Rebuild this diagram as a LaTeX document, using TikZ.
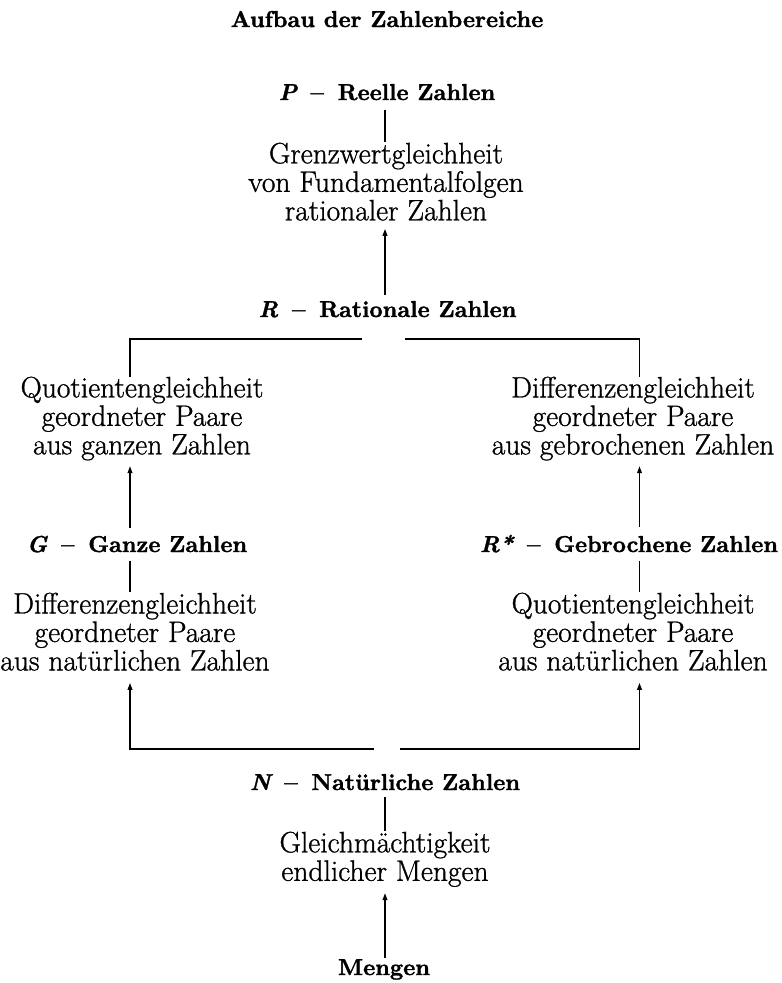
\documentclass[tikz,border=0pt]{standalone}
\usepackage{fontspec}
\usetikzlibrary{arrows.meta}

% heavier faces, in the manner of an old textbook
\newfontfamily\bodyfont{Latin Modern Roman}[FakeBold=1.0]
\newfontface\headfont{lmroman10-bold}[Extension=.otf, Ligatures=TeX, FakeBold=1.5]
\newfontface\headit{lmroman10-bolditalic}[Extension=.otf, Ligatures=TeX, FakeBold=1.5]
\newcommand{\gap}{\hspace{0.6em}}
\newcommand{\sym}[1]{{\headit #1}}

\tikzset{
  head/.style={font=\headfont\fontsize{23}{26}\selectfont, inner sep=0pt, anchor=base},
  body/.style={font=\bodyfont\fontsize{29.5}{28.5}\selectfont, inner sep=0pt, anchor=north, align=center},
  link/.style={line width=1.6pt},
  uparrow/.style={line width=1.6pt, -{Triangle[length=7pt,width=4.6pt]}}
}

\begin{document}
\begin{tikzpicture}[x=1pt,y=-1pt]
  \useasboundingbox (0,0) rectangle (782,983);

  % column axes
  \coordinate (xl) at (130,0);
  \coordinate (xc) at (385,0);
  \coordinate (xr) at (639.5,0);

  % title
  \node[head] (title) at (387,27) {Aufbau der Zahlenbereiche};

  % real numbers
  \node[head] (P) at (387,100) {\sym{P}\gap–\gap Reelle Zahlen};
  \node[body] (grenz) at (386,142.5) {Grenzwertgleichheit\\von Fundamentalfolgen\\rationaler Zahlen};

  % rational numbers
  \node[head] (R) at (387.5,317) {\sym{R}\gap–\gap Rationale Zahlen};

  % left branch: integers
  \node[body] (quotL) at (142,376.5) {Quotientengleichheit\\geordneter Paare\\aus ganzen Zahlen};
  \node[head] (G) at (137,552) {\sym{G}\gap–\gap Ganze Zahlen};
  \node[body] (diffL) at (135,592.5) {Differenzengleichheit\\geordneter Paare\\aus natürlichen Zahlen};

  % right branch: fractions
  \node[body] (diffR) at (633,376.5) {Differenzengleichheit\\geordneter Paare\\aus gebrochenen Zahlen};
  \node[head] (Rs) at (629,552) {\sym{R*}\gap–\gap Gebrochene Zahlen};
  \node[body] (quotR) at (633,592.5) {Quotientengleichheit\\geordneter Paare\\aus natürlichen Zahlen};

  % natural numbers and sets
  \node[head] (N) at (385,790) {\sym{N}\gap–\gap Natürliche Zahlen};
  \node[body] (gleich) at (385,831.5) {Gleichmächtigkeit\\endlicher Mengen};
  \node[head] (mengen) at (384,975) {Mengen};

  % branch points of the split bars
  \coordinate (topL) at (362,339);
  \coordinate (topR) at (405,339);
  \coordinate (botL) at (374,749);
  \coordinate (botR) at (400,749);

  % centre column
  \draw[link, shorten <=10pt, shorten >=1pt] (P.south -| xc) -- (grenz.north -| xc);
  \draw[uparrow, shorten <=6pt, shorten >=8pt] (R.north -| xc) -- (grenz.south -| xc);
  \draw[link, shorten <=7pt, shorten >=0.5pt] (N.south -| xc) -- (gleich.north -| xc);
  \draw[uparrow, shorten <=1pt, shorten >=6pt] (mengen.north -| xc) -- (gleich.south -| xc);

  % upper bar from R
  \draw[link] (topL) -| (quotL.north -| xl);
  \draw[link] (topR) -| (diffR.north -| xr);

  % left column
  \draw[uparrow, shorten <=8pt, shorten >=5.5pt] (G.north -| xl) -- (quotL.south -| xl);
  \draw[link, shorten <=8pt, shorten >=0.5pt] (G.south -| xl) -- (diffL.north -| xl);

  % right column
  \draw[uparrow, shorten <=8pt, shorten >=5.5pt] (Rs.north -| xr) -- (diffR.south -| xr);
  \draw[link, shorten <=8pt, shorten >=0.5pt] (Rs.south -| xr) -- (quotR.north -| xr);

  % lower bar towards N
  \draw[uparrow, shorten >=12pt] (botL) -| (diffL.south -| xl);
  \draw[uparrow, shorten >=12pt] (botR) -| (quotR.south -| xr);
\end{tikzpicture}
\end{document}
